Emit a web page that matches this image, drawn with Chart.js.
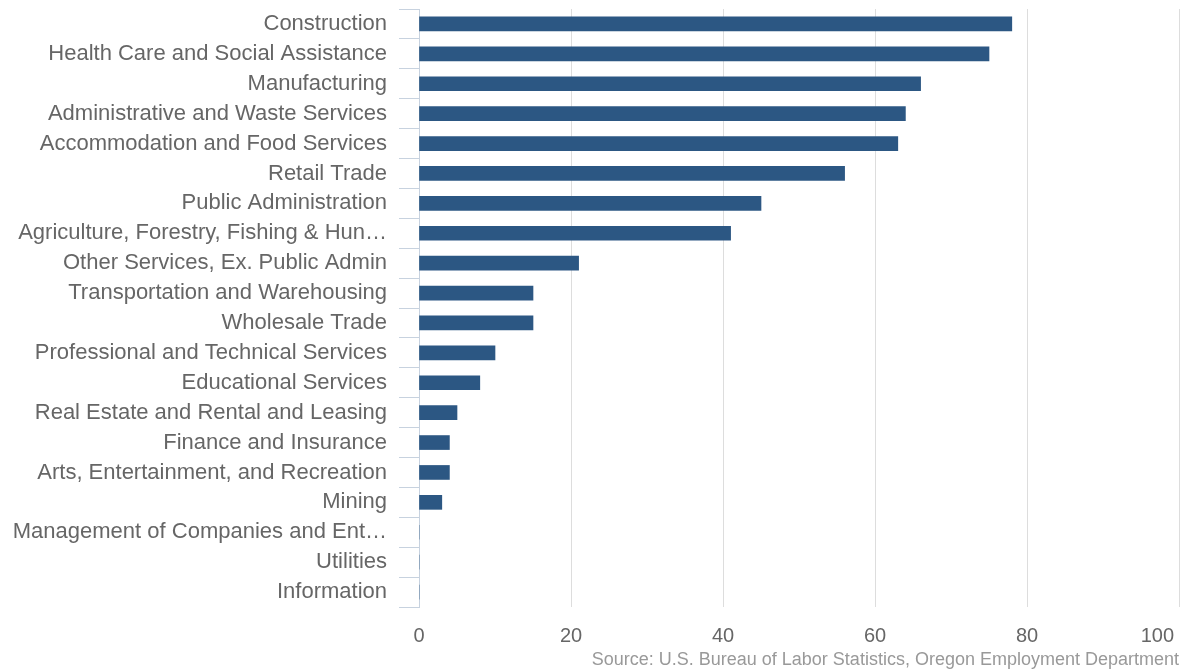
<!DOCTYPE html>
<html>
<head>
<meta charset="utf-8">
<script src="https://cdn.jsdelivr.net/npm/chart.js@4/dist/chart.umd.min.js"></script>
<style>
  html, body { margin: 0; padding: 0; background: #ffffff; overflow: hidden; }
  #wrap { width: 1183px; height: 672px; position: relative; }
</style>
</head>
<body>
<div id="wrap"><canvas id="chart"></canvas></div>
<script>
// Industries, ordered from largest to smallest
const industries = [
  'Construction',
  'Health Care and Social Assistance',
  'Manufacturing',
  'Administrative and Waste Services',
  'Accommodation and Food Services',
  'Retail Trade',
  'Public Administration',
  'Agriculture, Forestry, Fishing & Hun…',
  'Other Services, Ex. Public Admin',
  'Transportation and Warehousing',
  'Wholesale Trade',
  'Professional and Technical Services',
  'Educational Services',
  'Real Estate and Rental and Leasing',
  'Finance and Insurance',
  'Arts, Entertainment, and Recreation',
  'Mining',
  'Management of Companies and Ent…',
  'Utilities',
  'Information'
];

const counts = [78, 75, 66, 64, 63, 56, 45, 41, 21, 15, 15, 10, 8, 5, 4, 4, 3, 0, 0, 0];

const xTicks = [0, 20, 40, 60, 80, 100];

const sourceNote = 'Source: U.S. Bureau of Labor Statistics, Oregon Employment Department';

const FONT = "'Liberation Sans', Arial, Helvetica, sans-serif";

// keep the right-most axis label inside the canvas
const alignLastTick = {
  id: 'alignLastTick',
  beforeDraw(chart) {
    const items = chart.scales.x.getLabelItems();
    const last = items[items.length - 1];
    if (last) {
      last.options.textAlign = 'right';
      last.options.translation = [last.options.translation[0] - 5, last.options.translation[1]];
    }
  }
};

new Chart(document.getElementById('chart'), {
  type: 'bar',
  data: {
    labels: industries,
    datasets: [{
      data: counts,
      backgroundColor: '#2c5783',
      borderWidth: 0,
      barThickness: 14
    }]
  },
  plugins: [alignLastTick],
  options: {
    indexAxis: 'y',
    responsive: true,
    maintainAspectRatio: false,
    animation: false,
    layout: { padding: { top: 9, right: 4, bottom: 0, left: 0 } },
    plugins: {
      legend: { display: false },
      tooltip: { enabled: false },
      title: {
        display: true,
        position: 'bottom',
        align: 'end',
        text: sourceNote,
        color: '#999999',
        font: { family: FONT, size: 18, weight: 'normal' },
        padding: { top: 0, bottom: 1.4 }
      }
    },
    scales: {
      x: {
        min: xTicks[0],
        max: xTicks[xTicks.length - 1],
        afterBuildTicks(scale) {
          scale.ticks = xTicks.map(v => ({ value: v }));
        },
        afterFit(scale) {
          scale.paddingRight = 0;
          scale.height = 42;
        },
        border: { display: false },
        grid: {
          color: '#dddddd',
          lineWidth: 1,
          drawTicks: false
        },
        ticks: {
          color: '#666666',
          padding: 17,
          font: { family: FONT, size: 20 }
        }
      },
      y: {
        afterFit(scale) {
          scale.width = 419;
          scale.paddingTop = 0;
          scale.paddingBottom = 0;
        },
        border: { display: true, color: '#c7d2df', width: 1 },
        grid: {
          drawOnChartArea: false,
          drawTicks: true,
          tickLength: 20,
          color: '#c7d2df',
          offset: true
        },
        ticks: {
          color: '#666666',
          padding: 12,
          autoSkip: false,
          font: { family: FONT, size: 22 }
        }
      }
    }
  }
});
</script>
</body>
</html>
